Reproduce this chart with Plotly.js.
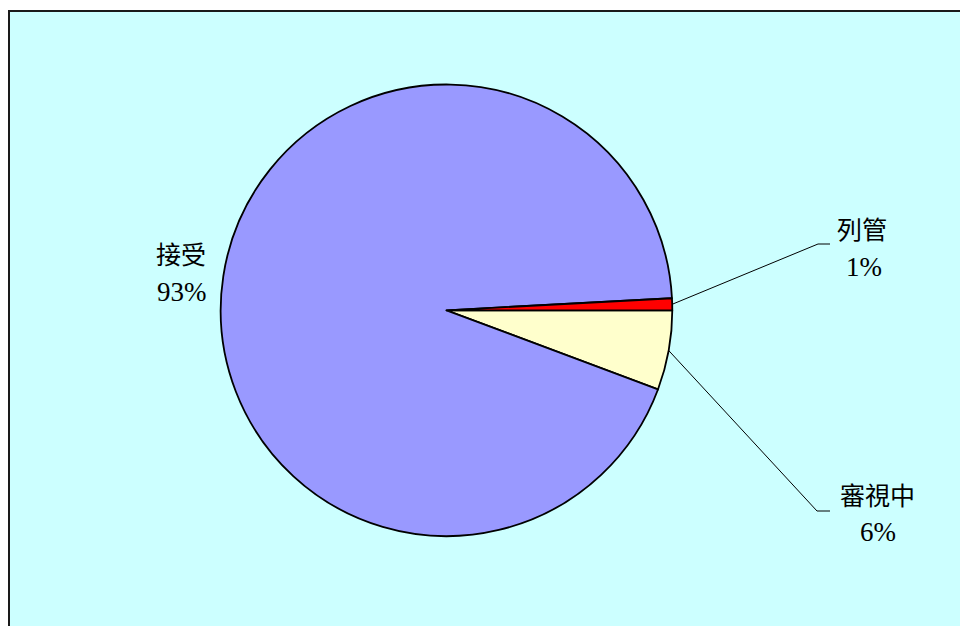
<!DOCTYPE html>
<html>
<head>
<meta charset="utf-8">
<script src="https://cdn.plot.ly/plotly-3.0.1.min.js"></script>
<style>html,body{margin:0;padding:0;background:#fff;}#chart{width:960px;height:626px;}</style>
</head>
<body>
<div id="chart"></div>
<script>
// Data (slices listed clockwise starting at 3 o'clock)
const categories = ["審視中", "接受", "列管"];
const values = [5.7, 93.45, 0.85];
const colors = ["#FFFFCC", "#9999FF", "#FF0000"];

// Layout constants (pixels)
const W = 960, H = 626;
const CX = 446.5, CY = 310.3, R = 225.8;
const CJK = '"Noto Sans CJK TC", "Noto Sans CJK SC", sans-serif';
const NUM = '"Liberation Serif", "DejaVu Serif", serif';

// label placement: name centre, percent centre, leader-line elbow/end (null = no leader)
const labelPos = {
  "列管":   {name: [862, 228], pct: [864, 267], elbow: [818, 244], end: [830, 244]},
  "接受":   {name: [181, 253], pct: [182, 292], elbow: null, end: null},
  "審視中": {name: [877, 494], pct: [878, 532], elbow: [817, 511], end: [830, 511]}
};

const px = x => x / W;
const py = y => 1 - y / H;

const total = values.reduce((a, b) => a + b, 0);
const annotations = [];
const shapes = [{
  type: 'rect', xref: 'paper', yref: 'paper', layer: 'below',
  x0: px(9), y0: py(11), x1: 1.05, y1: -0.05,
  fillcolor: '#CCFFFF', line: {color: '#1a1a1a', width: 2}
}];

let cum = 0;
categories.forEach((cat, i) => {
  const frac = values[i] / total;
  const midDeg = -360 * (cum + frac / 2); // clockwise from 3 o'clock
  cum += frac;
  const p = labelPos[cat];
  annotations.push({
    xref: 'paper', yref: 'paper', x: px(p.name[0]), y: py(p.name[1]),
    xanchor: 'center', yanchor: 'middle', showarrow: false,
    text: cat, font: {family: CJK, size: 25, color: '#000'}
  });
  annotations.push({
    xref: 'paper', yref: 'paper', x: px(p.pct[0]), y: py(p.pct[1]),
    xanchor: 'center', yanchor: 'middle', showarrow: false,
    text: Math.round(frac * 100) + '%', font: {family: NUM, size: 27, color: '#000'}
  });
  if (p.elbow) {
    const a = midDeg * Math.PI / 180;
    const sx = CX + R * Math.cos(a), sy = CY - R * Math.sin(a);
    shapes.push({
      type: 'path', xref: 'paper', yref: 'paper', layer: 'above',
      path: `M ${px(sx)} ${py(sy)} L ${px(p.elbow[0])} ${py(p.elbow[1])} L ${px(p.end[0])} ${py(p.end[1])}`,
      line: {color: '#000', width: 1}
    });
  }
});

const trace = {
  type: 'pie',
  labels: categories,
  values: values,
  sort: false,
  direction: 'clockwise',
  rotation: 90,
  textinfo: 'none',
  hoverinfo: 'none',
  showlegend: false,
  marker: {colors: colors, line: {color: '#000', width: 1.8}},
  domain: {x: [px(CX - R), px(CX + R)], y: [py(CY + R), py(CY - R)]}
};

const layout = {
  width: W, height: H,
  margin: {l: 0, r: 0, t: 0, b: 0},
  paper_bgcolor: '#FFFFFF',
  showlegend: false,
  shapes: shapes,
  annotations: annotations
};

Plotly.newPlot('chart', [trace], layout, {displayModeBar: false, staticPlot: true});
</script>
</body>
</html>
